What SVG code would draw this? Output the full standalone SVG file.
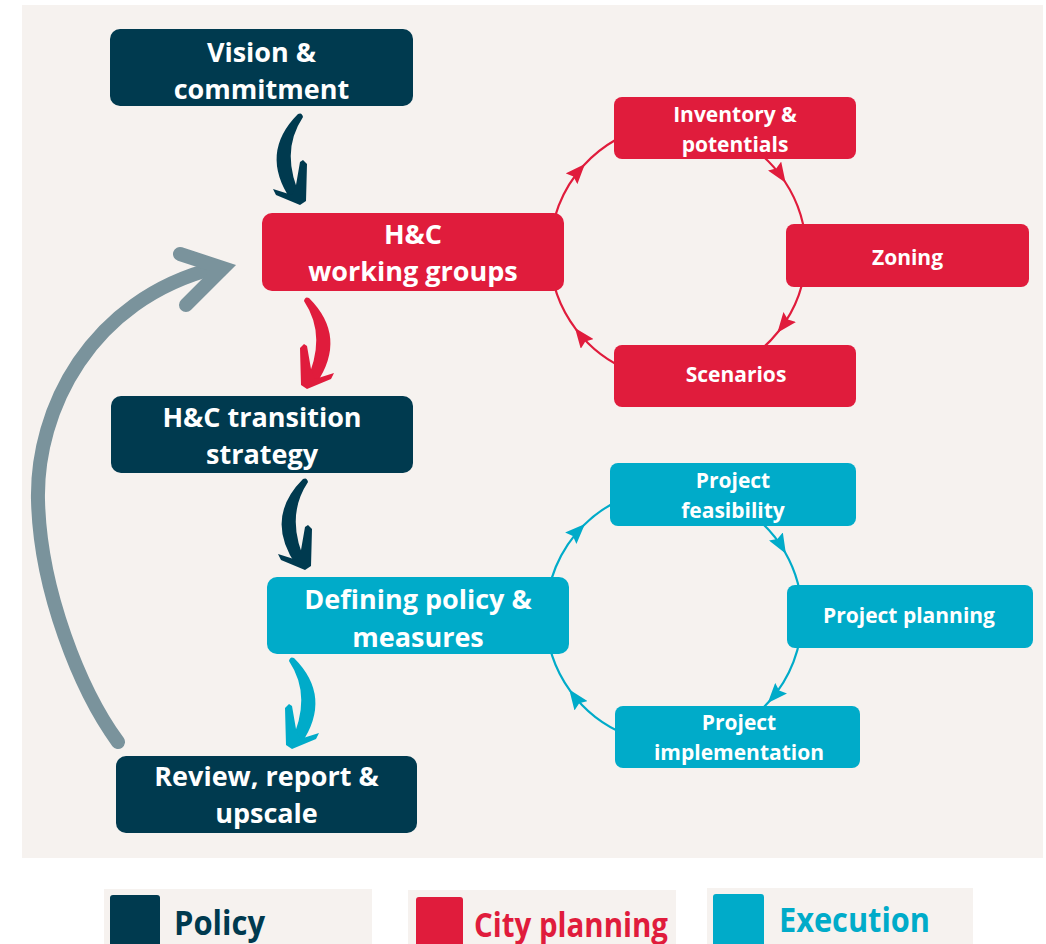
<svg xmlns="http://www.w3.org/2000/svg" xmlns:xlink="http://www.w3.org/1999/xlink" width="1046" height="944" viewBox="0 0 1046 944">
<style>
.t{font-family:"Open Sans","Noto Sans",sans-serif;font-weight:700;fill:#fff;text-anchor:middle}
.big{font-size:27px}
.sm{font-size:21px}
.dark{fill:#003a4f}
.red{fill:#e01c3c}
.blue{fill:#00abc9}
.bg{fill:#f6f2ef}
.cred{fill:none;stroke:#e01c3c;stroke-width:2.2}
.cblue{fill:none;stroke:#00abc9;stroke-width:2.2}
.leg{font-family:"Open Sans","Noto Sans",sans-serif;font-weight:700;font-size:34px}
</style>
<defs>
<marker id="mr" markerUnits="userSpaceOnUse" viewBox="0 0 20 16" markerWidth="20" markerHeight="16" refX="18" refY="8" orient="auto"><path d="M0,0 L20,8 L0,16 L3,8 Z" fill="#e01c3c"/></marker>
<marker id="mb" markerUnits="userSpaceOnUse" viewBox="0 0 20 16" markerWidth="20" markerHeight="16" refX="18" refY="8" orient="auto"><path d="M0,0 L20,8 L0,16 L3,8 Z" fill="#00abc9"/></marker>
<g id="bend">
<path d="M -4,-89 Q -43,-50 -11,-3 L 0,-3 Q -23,-50 1,-86 Q 0,-91 -4,-89 Z"/>
<path d="M -29,-14 L -10,-8 L -6,-18 L -2,-41 L 1,-43 L 5,-39 L 4,-2 L -2,2 L -26,-8 Z"/>
</g>
</defs>
<rect x="0" y="0" width="1046" height="944" fill="#ffffff"/>
<rect class="bg" x="22" y="5" width="1021" height="853"/>

<g id="connectors">
<path class="cred" marker-mid="url(#mr)" d="M 550,252 A 128 128 0 0 1 583.6,165.5 A 128 128 0 0 1 655.8,125.9"/>
<path class="cred" marker-mid="url(#mr)" d="M 700.2,125.9 A 128 128 0 0 1 784.5,181 A 128 128 0 0 1 806,252"/>
<path class="cred" marker-mid="url(#mr)" d="M 806,252 A 128 128 0 0 1 778.6,331.2 A 128 128 0 0 1 655.8,378.1"/>
<path class="cred" marker-mid="url(#mr)" d="M 700.2,378.1 A 128 128 0 0 1 576.2,329.6 A 128 128 0 0 1 550,252"/>
<path class="cblue" marker-mid="url(#mb)" d="M 546,616 A 128 128 0 0 1 583.5,525.5 A 128 128 0 0 1 651.8,490"/>
<path class="cblue" marker-mid="url(#mb)" d="M 696.2,490 A 128 128 0 0 1 784.9,552 A 128 128 0 0 1 802,616"/>
<path class="cblue" marker-mid="url(#mb)" d="M 802,616 A 128 128 0 0 1 769.1,701.6 A 128 128 0 0 1 651.8,742.1"/>
<path class="cblue" marker-mid="url(#mb)" d="M 696.2,742.1 A 128 128 0 0 1 570.4,691.2 A 128 128 0 0 1 546,616"/>
<use xlink:href="#bend" href="#bend" transform="translate(302,203)" fill="#003a4f"/>
<use xlink:href="#bend" href="#bend" transform="translate(305,387) scale(-1,1)" fill="#e01c3c"/>
<use xlink:href="#bend" href="#bend" transform="translate(307,568)" fill="#003a4f"/>
<use xlink:href="#bend" href="#bend" transform="translate(290,747) scale(-1,1)" fill="#00abc9"/>
<path d="M 118,742 C 80,690 40,590 38,500 S 90,300 215,268" fill="none" stroke="#7a939c" stroke-width="14" stroke-linecap="round"/>
<polyline points="180,254 223,268 186,305" fill="none" stroke="#7a939c" stroke-width="14" stroke-linecap="round" stroke-linejoin="miter"/>
</g>

<g id="vision"><rect class="dark" x="110" y="29" width="303" height="77" rx="10"/><text class="t big" x="261.5" y="62">Vision &amp;</text><text class="t big" x="261.5" y="99">commitment</text></g>
<g id="working-groups"><rect class="red" x="262" y="213" width="302" height="78" rx="10"/><text class="t big" x="413" y="244">H&amp;C</text><text class="t big" x="413" y="281">working groups</text></g>
<g id="strategy"><rect class="dark" x="111" y="396" width="302" height="77" rx="10"/><text class="t big" x="262" y="427">H&amp;C transition</text><text class="t big" x="262" y="464">strategy</text></g>
<g id="defining"><rect class="blue" x="267" y="577" width="302" height="77" rx="10"/><text class="t big" x="418" y="609">Defining policy &amp;</text><text class="t big" x="418" y="647">measures</text></g>
<g id="review"><rect class="dark" x="116" y="756" width="301" height="77" rx="10"/><text class="t big" x="266.5" y="786">Review, report &amp;</text><text class="t big" x="266.5" y="823">upscale</text></g>

<g id="inventory"><rect class="red" x="614" y="97" width="242" height="62" rx="8"/><text class="t sm" x="735" y="122">Inventory &amp;</text><text class="t sm" x="735" y="152">potentials</text></g>
<g id="zoning"><rect class="red" x="786" y="224" width="243" height="63" rx="8"/><text class="t sm" x="907.5" y="265">Zoning</text></g>
<g id="scenarios"><rect class="red" x="614" y="345" width="242" height="62" rx="8"/><text class="t sm" x="736" y="382">Scenarios</text></g>

<g id="feasibility"><rect class="blue" x="610" y="463" width="246" height="63" rx="8"/><text class="t sm" x="733" y="488">Project</text><text class="t sm" x="733" y="518">feasibility</text></g>
<g id="planning"><rect class="blue" x="787" y="585" width="246" height="63" rx="8"/><text class="t sm" x="909" y="623">Project planning</text></g>
<g id="implementation"><rect class="blue" x="615" y="706" width="245" height="62" rx="8"/><text class="t sm" x="739" y="730">Project</text><text class="t sm" x="739" y="760">implementation</text></g>

<g id="legend">
<rect class="bg" x="104" y="889" width="268" height="55"/>
<rect class="dark" x="110" y="895" width="50" height="55" rx="3"/>
<text class="leg" x="174" y="935" fill="#003a4f" textLength="91" lengthAdjust="spacingAndGlyphs">Policy</text>
<rect class="bg" x="408" y="890" width="268" height="54"/>
<rect class="red" x="416" y="897" width="47" height="55" rx="3"/>
<text class="leg" x="474" y="937" fill="#e01c3c" textLength="194" lengthAdjust="spacingAndGlyphs">City planning</text>
<rect class="bg" x="707" y="888" width="266" height="56"/>
<rect class="blue" x="713" y="894" width="51" height="55" rx="3"/>
<text class="leg" x="779" y="932" fill="#00abc9" textLength="151" lengthAdjust="spacingAndGlyphs">Execution</text>
</g>
</svg>
